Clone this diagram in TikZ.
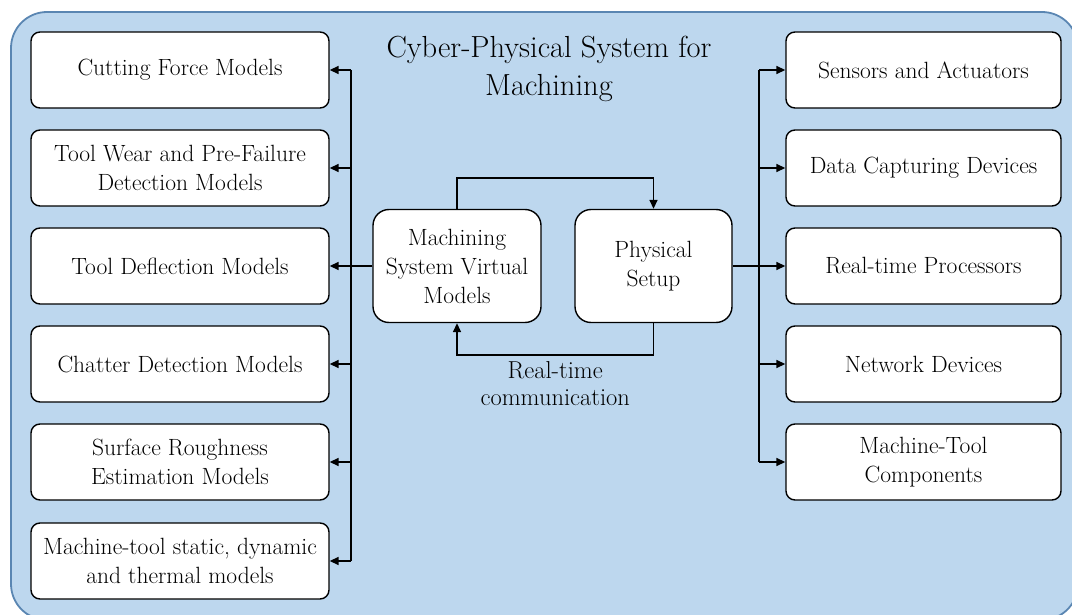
\documentclass[tikz,border=0pt]{standalone}
\usetikzlibrary{arrows.meta}
\definecolor{panelfill}{HTML}{BDD7EE}
\definecolor{paneledge}{HTML}{5A86B2}
\begin{document}
\begin{tikzpicture}[x=1pt,y=-1pt,
  box/.style={draw=black,fill=white,rounded corners=9pt,line width=1.4pt,
    minimum width=298pt,minimum height=76pt,align=center,inner sep=2pt,
    font=\fontsize{23.5}{29}\selectfont},
  midbox/.style={box,minimum width=168pt,minimum height=113pt,rounded corners=16pt},
  link/.style={line width=1.6pt,-{Triangle[length=9pt,width=8pt]}},
  wire/.style={line width=1.6pt}]
\useasboundingbox (0,0) rectangle (1072,615);
% panel
\draw[fill=panelfill,draw=paneledge,line width=1.8pt,rounded corners=36pt]
  (11,12) rectangle (1078,620);
\node[align=center,font=\fontsize{30.5}{38}\selectfont] (title) at (549,69)
  {Cyber-Physical System for\\Machining};
% left column of models
\node[box] (l1) at (180,70)  {Cutting Force Models};
\node[box] (l2) at (180,168) {Tool Wear and Pre-Failure\\Detection Models};
\node[box] (l3) at (180,266) {Tool Deflection Models};
\node[box] (l4) at (180,364) {Chatter Detection Models};
\node[box] (l5) at (180,462) {Surface Roughness\\Estimation Models};
\node[box] (l6) at (180,561) {Machine-tool static, dynamic\\and thermal models};
% right column of hardware
\node[box,minimum width=275pt] (r1) at (923.5,70)  {Sensors and Actuators};
\node[box,minimum width=275pt] (r2) at (923.5,168) {Data Capturing Devices};
\node[box,minimum width=275pt] (r3) at (923.5,266) {Real-time Processors};
\node[box,minimum width=275pt] (r4) at (923.5,364) {Network Devices};
\node[box,minimum width=275pt] (r5) at (923.5,462) {Machine-Tool\\Components};
% centre
\node[midbox] (vm) at (457,266) {Machining\\System Virtual\\Models};
\node[midbox,minimum width=157pt] (ps) at (653.5,266) {Physical\\Setup};
% bus coordinates
\coordinate (lbus) at (351,266);
\coordinate (ltop) at (351,70);
\coordinate (lbot) at (351,561);
\coordinate (rbus) at (759,266);
\coordinate (rtop) at (759,70);
\coordinate (rbot) at (759,462);
\draw[wire] (vm.west) -- (lbus);
\draw[wire] (ltop) -- (lbot);
\foreach \n in {l1,l2,l3,l4,l5,l6}
  \draw[link] (351,0 |- \n.east) -- (\n.east);
\draw[wire] (ps.east) -- (rbus);
\draw[wire] (rtop) -- (rbot);
\foreach \n in {r1,r2,r3,r4,r5}
  \draw[link] (759,0 |- \n.west) -- (\n.west);
% loop between virtual models and physical setup
\draw[link] (vm.north) -- ++(0,-31) -| (ps.north);
\draw[link] (ps.south) -- ++(0,32) -| (vm.south)
  node[pos=0.25,below=2pt,align=center,font=\fontsize{24.5}{27}\selectfont]
  {Real-time\\communication};
\end{tikzpicture}
\end{document}
